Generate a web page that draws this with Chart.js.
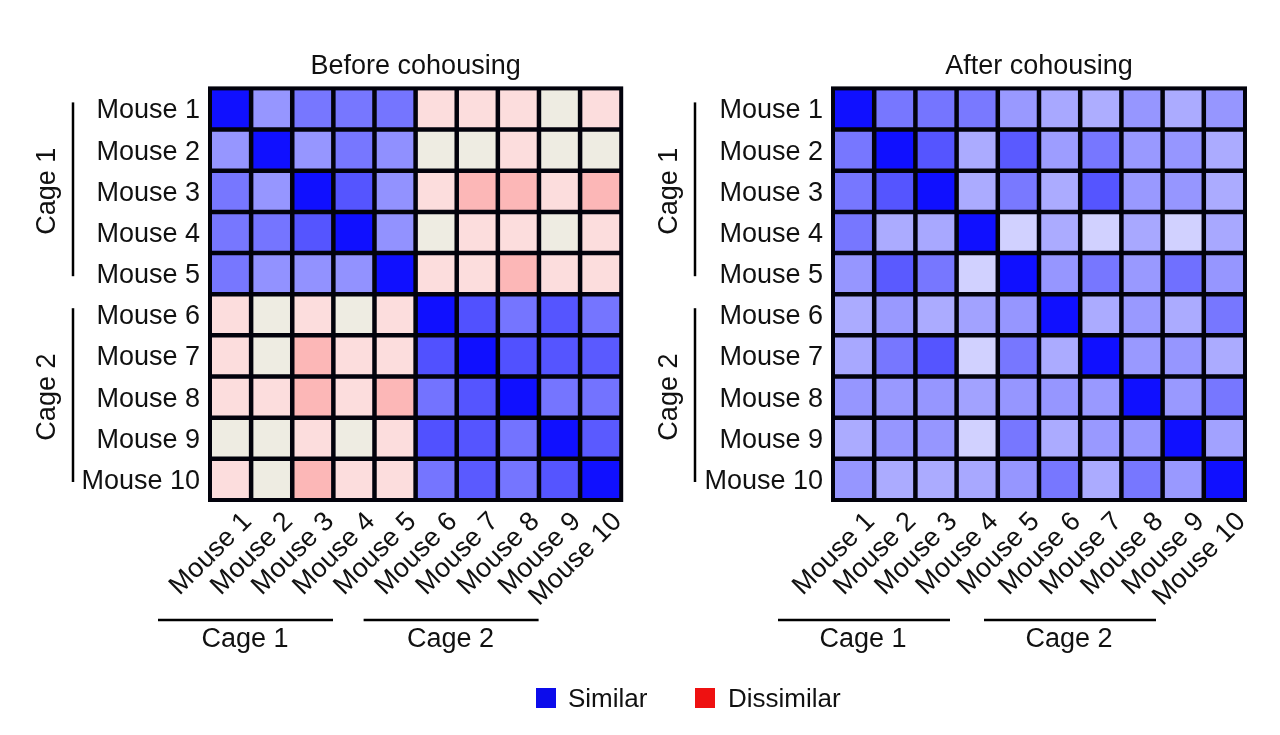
<!DOCTYPE html>
<html>
<head>
<meta charset="utf-8">
<script src="https://cdn.jsdelivr.net/npm/chart.js@4.4.0/dist/chart.umd.min.js"></script>
<style>
body { margin: 0; background: #fff; width: 1280px; height: 735px; position: relative; overflow: hidden; font-family: "Liberation Sans", Arial, sans-serif; }
#c1 { position: absolute; left: 0; top: 0; }
#c2 { position: absolute; left: 630px; top: 0; }
.key { position: absolute; top: 688px; width: 20px; height: 20px; }
.keytxt { position: absolute; top: 680px; font-size: 26px; line-height: 36px; color: #111; }
</style>
</head>
<body>
<canvas id="c1" width="630" height="735"></canvas>
<canvas id="c2" width="650" height="735"></canvas>
<div class="key" style="left:536px;background:#0c0ceb"></div>
<div class="keytxt" style="left:568px">Similar</div>
<div class="key" style="left:695px;background:#ee1111"></div>
<div class="keytxt" style="left:728px">Dissimilar</div>
<script>
const mice = ['Mouse 1', 'Mouse 2', 'Mouse 3', 'Mouse 4', 'Mouse 5', 'Mouse 6', 'Mouse 7', 'Mouse 8', 'Mouse 9', 'Mouse 10'];
const cages = ['Cage 1', 'Cage 2'];

// similarity per pair: 1 = similar (blue), negative = dissimilar (red), 0 = neutral
const before = [
  [1.00, 0.40, 0.54, 0.54, 0.55, -0.1, -0.1, -0.1, 0, -0.1],
  [0.40, 1.00, 0.40, 0.54, 0.43, 0, 0, -0.1, 0, 0],
  [0.54, 0.40, 1.00, 0.69, 0.42, -0.1, -0.3, -0.3, -0.1, -0.3],
  [0.54, 0.55, 0.69, 1.00, 0.42, 0, -0.1, -0.1, 0, -0.1],
  [0.54, 0.42, 0.42, 0.42, 1.00, -0.1, -0.1, -0.3, -0.1, -0.1],
  [-0.1, 0, -0.1, 0, -0.1, 1.00, 0.71, 0.55, 0.69, 0.55],
  [-0.1, 0, -0.3, -0.1, -0.1, 0.71, 1.00, 0.71, 0.69, 0.67],
  [-0.1, -0.1, -0.3, -0.1, -0.3, 0.56, 0.69, 1.00, 0.55, 0.56],
  [0, 0, -0.1, 0, -0.1, 0.71, 0.69, 0.56, 1.00, 0.67],
  [-0.1, 0, -0.3, -0.1, -0.1, 0.55, 0.67, 0.55, 0.69, 1.00]
];
const after = [
  [1.00, 0.54, 0.55, 0.53, 0.39, 0.32, 0.30, 0.40, 0.31, 0.40],
  [0.54, 1.00, 0.69, 0.31, 0.67, 0.37, 0.54, 0.39, 0.40, 0.31],
  [0.54, 0.69, 1.00, 0.31, 0.53, 0.31, 0.69, 0.39, 0.40, 0.31],
  [0.54, 0.31, 0.32, 1.00, 0.14, 0.31, 0.14, 0.32, 0.14, 0.32],
  [0.40, 0.67, 0.54, 0.14, 1.00, 0.40, 0.54, 0.39, 0.57, 0.40],
  [0.31, 0.39, 0.31, 0.35, 0.40, 1.00, 0.31, 0.39, 0.31, 0.54],
  [0.32, 0.54, 0.69, 0.14, 0.54, 0.31, 1.00, 0.39, 0.40, 0.31],
  [0.40, 0.39, 0.40, 0.35, 0.40, 0.40, 0.39, 1.00, 0.39, 0.54],
  [0.31, 0.40, 0.40, 0.14, 0.54, 0.31, 0.39, 0.40, 1.00, 0.35],
  [0.40, 0.31, 0.31, 0.32, 0.40, 0.54, 0.31, 0.54, 0.39, 1.00]
];

const FONT = '"Liberation Sans", Arial, sans-serif';

function cellColor(v) {
  if (v === 0) return 'rgb(238,236,226)';
  if (v > 0) {
    const c = Math.round(240 - 224 * v);
    const b = Math.min(255, Math.round(226 + 290 * v));
    return `rgb(${c},${c},${b})`;
  }
  const c = Math.round(240 - 190 * -v);
  return `rgb(252,${c},${c})`;
}

// one stacked dataset per row, bottom row first so Mouse 1 ends on top
function makeDatasets(matrix) {
  const sets = [];
  for (let r = matrix.length - 1; r >= 0; r--) {
    sets.push({
      label: mice[r],
      data: matrix[r].map(() => 1),
      backgroundColor: matrix[r].map(cellColor),
      borderWidth: 0,
      inflateAmount: 0.5,
      categoryPercentage: 1,
      barPercentage: 1
    });
  }
  return sets;
}

function line(ctx, x1, y1, x2, y2) {
  ctx.beginPath(); ctx.moveTo(x1, y1); ctx.lineTo(x2, y2); ctx.stroke();
}

// black cell grid + frame, then cage brackets and labels
const cagePlugin = {
  id: 'cages',
  afterDatasetsDraw(chart) {
    const { ctx, chartArea: a } = chart;
    const x = chart.scales.x, y = chart.scales.y;
    const w = x.getPixelForValue(1) - x.getPixelForValue(0);
    ctx.save();
    ctx.strokeStyle = '#02020c';
    ctx.lineWidth = 4.5;
    for (let i = 1; i < mice.length; i++) {
      const px = x.getPixelForValue(i) - w / 2;
      line(ctx, px, a.top, px, a.bottom);
      const py = y.getPixelForValue(i);
      line(ctx, a.left, py, a.right, py);
    }
    ctx.lineWidth = 4;
    ctx.strokeRect(a.left, a.top, a.right - a.left, a.bottom - a.top);
    ctx.restore();
  },
  afterDraw(chart, args, opts) {
    const { ctx, chartArea: a } = chart;
    const x = chart.scales.x, y = chart.scales.y;
    ctx.save();
    ctx.strokeStyle = '#000';
    ctx.lineWidth = 2.5;
    ctx.fillStyle = '#111';
    ctx.font = '27px ' + FONT;
    ctx.textAlign = 'center';
    ctx.textBaseline = 'middle';
    const w = x.getPixelForValue(1) - x.getPixelForValue(0);
    cages.forEach((name, g) => {
      const top = y.getPixelForValue(10 - g * 5);
      const bot = y.getPixelForValue(5 - g * 5);
      const bx = a.left - opts.side;
      line(ctx, bx, top + 14, bx, bot - 18);
      ctx.save();
      ctx.translate(bx - 25, (top + bot) / 2);
      ctx.rotate(-Math.PI / 2);
      ctx.fillText(name, 0, 0);
      ctx.restore();
      const start = x.getPixelForValue(g * 5) - w / 2;
      const ly = a.bottom + 120;
      line(ctx, start + opts.from, ly, start + opts.to, ly);
      ctx.fillText(name, start + opts.text, a.bottom + 140);
    });
    ctx.restore();
  }
};

function makeChart(id, title, matrix, yWidth, padRight, cageOpts) {
  new Chart(document.getElementById(id), {
    type: 'bar',
    data: { labels: mice, datasets: makeDatasets(matrix) },
    plugins: [cagePlugin],
    options: {
      responsive: false,
      animation: false,
      events: [],
      layout: { padding: { left: 0, right: padRight, top: 0, bottom: 0 } },
      plugins: {
        legend: { display: false },
        tooltip: { enabled: false },
        title: {
          display: true,
          text: title,
          fullSize: false,
          color: '#111',
          font: { family: FONT, size: 27, weight: 'normal' },
          padding: { top: 50, bottom: 6 }
        },
        cages: cageOpts
      },
      scales: {
        x: {
          stacked: true,
          grid: { display: false, drawTicks: false },
          border: { display: false },
          afterFit: (s) => { s.height = 235; },
          ticks: {
            autoSkip: false,
            minRotation: 45,
            maxRotation: 45,
            labelOffset: 17,
            padding: 6,
            color: '#111',
            font: { family: FONT, size: 27 }
          }
        },
        y: {
          stacked: true,
          min: 0,
          max: 10,
          grid: { display: false, drawTicks: false },
          border: { display: false },
          afterFit: (s) => { s.width = yWidth; },
          afterBuildTicks: (s) => { s.ticks = mice.map((m, i) => ({ value: 9.45 - i })); },
          ticks: {
            padding: 10,
            color: '#111',
            font: { family: FONT, size: 27 },
            callback: (value) => mice[Math.round(9.45 - value)]
          }
        }
      }
    }
  });
}

makeChart('c1', 'Before cohousing', before, 210, 5, { side: 137, from: -52, to: 123, text: 35 });
makeChart('c2', 'After cohousing', after, 203, 35, { side: 138, from: -55, to: 117, text: 30 });
</script>
</body>
</html>
